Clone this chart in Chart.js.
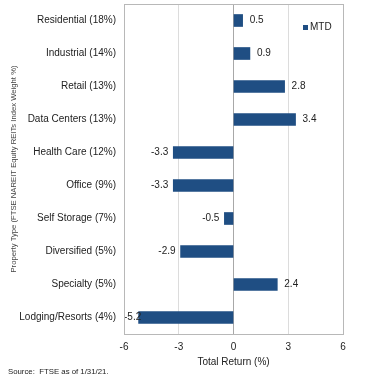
<!DOCTYPE html>
<html>
<head>
<meta charset="utf-8">
<script src="https://cdn.jsdelivr.net/npm/chart.js@4"></script>
<style>
  html, body { margin: 0; padding: 0; background: #fff; }
  #wrap { position: relative; width: 388px; height: 387px; }
  #source { position: absolute; left: 8px; top: 367px; font: 7.8px "Liberation Sans", Arial, sans-serif; color: #222; white-space: pre; }
</style>
</head>
<body>
<div id="wrap">
  <canvas id="property_type_chart" width="388" height="387"></canvas>
  <div id="source">Source:  FTSE as of 1/31/21.</div>
</div>
<script>
const property_type_labels = ['Residential (18%)', 'Industrial (14%)', 'Retail (13%)', 'Data Centers (13%)', 'Health Care (12%)', 'Office (9%)', 'Self Storage (7%)', 'Diversified (5%)', 'Specialty (5%)', 'Lodging/Resorts (4%)'];
const mtd_values = [0.5, 0.9, 2.8, 3.4, -3.3, -3.3, -0.5, -2.9, 2.4, -5.2];
const x_ticks = [-6, -3, 0, 3, 6];

const bar_color = '#1f4e83';
const font_family = '"Liberation Sans", Arial, sans-serif';
const label_font = '10px ' + font_family;

// value labels next to bar ends, plus frame and legend
const bar_labels_plugin = {
    id: 'bar_labels',
    afterDatasetsDraw(chart) {
        const ctx = chart.ctx;
        const a = chart.chartArea;
        const meta = chart.getDatasetMeta(0);
        ctx.save();
        ctx.font = label_font;
        ctx.fillStyle = '#222';
        ctx.textBaseline = 'middle';
        meta.data.forEach((bar, i) => {
            const v = mtd_values[i];
            const txt = v.toFixed(1);
            if (v >= 0) {
                ctx.textAlign = 'left';
                ctx.fillText(txt, bar.x + 7, bar.y);
            } else {
                // keep label inside plot area like excel does
                const w = ctx.measureText(txt).width;
                const x = Math.max(bar.x - 5, a.left + w);
                ctx.textAlign = 'right';
                ctx.fillText(txt, x, bar.y);
            }
        });
        // frame
        ctx.strokeStyle = '#b8b8b8';
        ctx.lineWidth = 1;
        ctx.strokeRect(Math.round(a.left) + 0.5, Math.round(a.top) + 0.5, Math.round(a.right - a.left), Math.round(a.bottom - a.top));
        // legend
        ctx.fillStyle = bar_color;
        ctx.fillRect(a.right - 40, a.top + 21, 5, 5);
        ctx.fillStyle = '#222';
        ctx.textAlign = 'left';
        ctx.fillText('MTD', a.right - 33, a.top + 23.5);
        ctx.restore();
    }
};

const property_type_chart = document.getElementById('property_type_chart');

new Chart(property_type_chart, {
    type: 'bar',
    data: {
        labels: property_type_labels,
        datasets: [{
            label: 'MTD',
            data: mtd_values,
            backgroundColor: bar_color,
            barThickness: 12,
        }]
    },
    options: {
        indexAxis: 'y',
        responsive: false,
        animation: false,
        layout: {
            padding: { left: 4, right: 45, top: 4, bottom: 19 }
        },
        plugins: {
            legend: false,
            tooltip: { enabled: false }
        },
        scales: {
            x: {
                min: -6,
                max: 6,
                afterBuildTicks: (scale) => { scale.ticks = x_ticks.map(v => ({ value: v })); },
                afterFit: (scale) => { scale.height = 34; scale.paddingLeft = 0; scale.paddingRight = 0; },
                grid: {
                    drawTicks: false,
                    color: (c) => c.tick.value === 0 ? '#a8a8a8' : (Math.abs(c.tick.value) === 6 ? 'rgba(0,0,0,0)' : '#dcdcdc'),
                },
                border: { display: false },
                ticks: {
                    padding: 7,
                    color: '#222',
                    font: { family: font_family, size: 10 }
                },
                title: {
                    display: true,
                    text: 'Total Return (%)',
                    color: '#222',
                    padding: 0,
                    font: { family: font_family, size: 10 }
                }
            },
            y: {
                afterFit: (scale) => { scale.width = 120; scale.paddingTop = 0; scale.paddingBottom = 0; },
                grid: { display: false, drawTicks: false },
                border: { display: false },
                ticks: {
                    padding: 8,
                    color: '#222',
                    font: { family: font_family, size: 10 }
                },
                title: {
                    display: true,
                    text: 'Property Type (FTSE NAREIT Equity REITs Index Weight %)',
                    color: '#444',
                    padding: { top: 5, bottom: 0 },
                    font: { family: font_family, size: 7.7 }
                }
            }
        }
    },
    plugins: [bar_labels_plugin]
});
</script>
</body>
</html>
